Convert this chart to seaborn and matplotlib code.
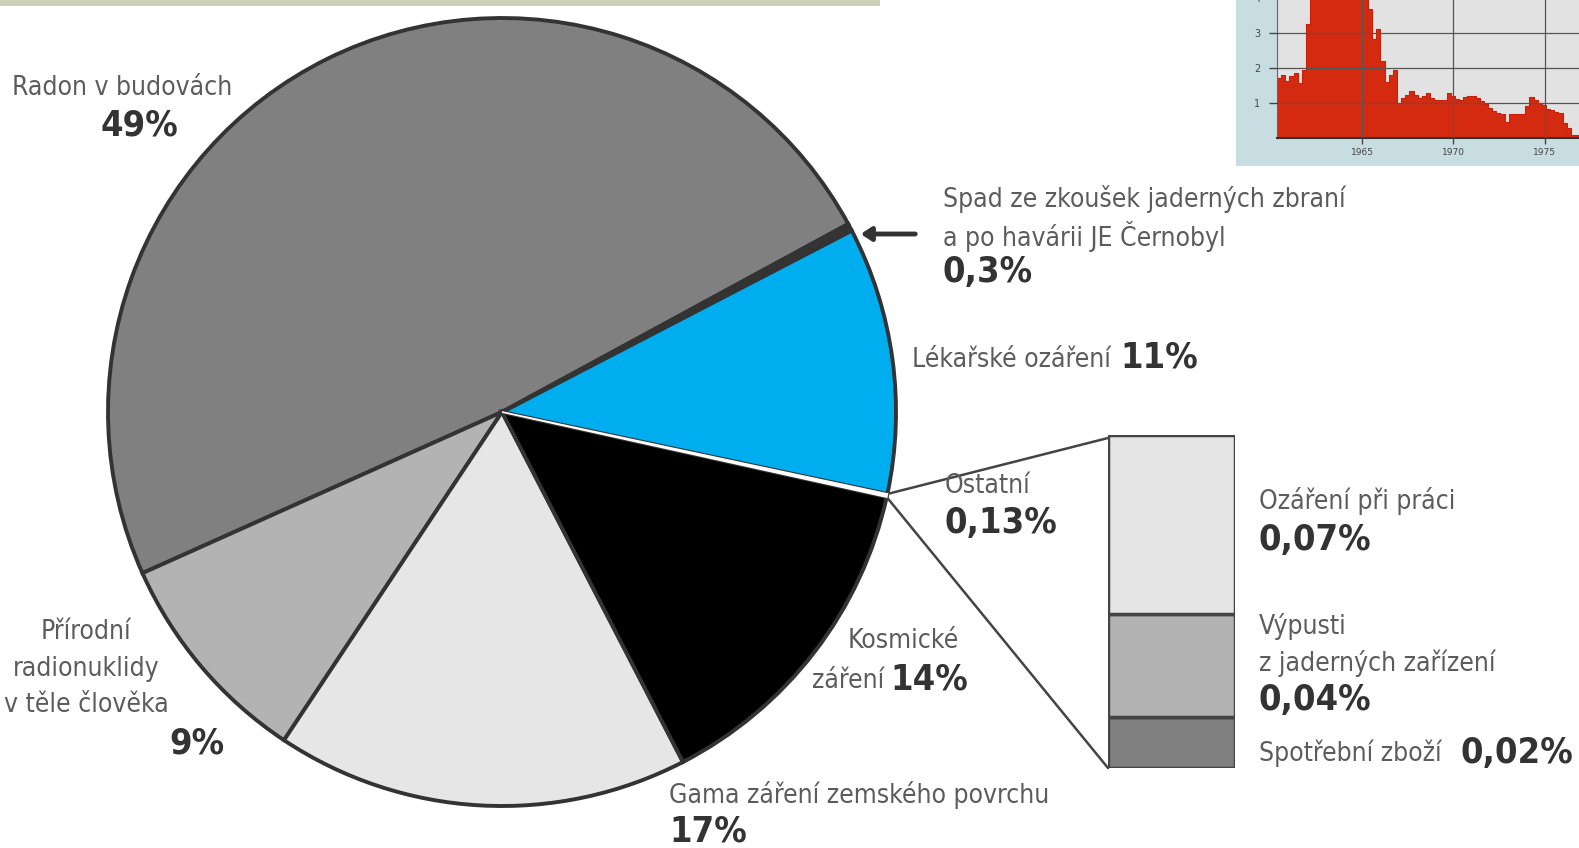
import numpy as np
import matplotlib
matplotlib.use("Agg")
import matplotlib.pyplot as plt
import seaborn as sns
from matplotlib.patches import Rectangle

# ---- data ----
pie_labels = ["Radon v budovách", "Přírodní radionuklidy v těle člověka",
              "Gama záření zemského povrchu", "Kosmické záření", "Ostatní",
              "Lékařské ozáření", "Spad ze zkoušek jaderných zbraní"]
pie_values = [49, 9, 17, 14, 0.13, 11, 0.3]
pie_colors = ["#808080", "#b3b3b3", "#e6e6e6", "#000000", "#ffffff", "#00aeef", "#333333"]

other_labels = ["Spotřební zboží", "Výpusti z jaderných zařízení", "Ozáření při práci"]
other_values = [0.02, 0.04, 0.07]
other_colors = ["#808080", "#b3b3b3", "#e4e4e4"]

# inset (photo fragment): fallout level by quarter
fallout = [1.71, 1.79, 1.64, 1.77, 1.86, 1.57, 1.95, 3.26,
           4.6, 5.2, 5.8, 6.0, 5.7, 5.9, 5.5, 5.8, 5.4, 5.0, 5.2, 4.8, 4.5, 4.2,
           3.70, 2.83, 3.12, 2.21, 1.61, 1.79, 1.93,
           0.99, 1.14, 1.24, 1.35, 1.24, 1.14, 1.19, 1.28, 1.14, 1.09, 1.09, 1.09,
           1.28, 1.21, 1.11, 1.09, 1.16, 1.21, 1.21, 1.13, 1.06, 0.97,
           0.87, 0.77, 0.72, 0.68, 0.46, 0.68, 0.68, 0.68, 0.68,
           0.92, 1.16, 1.09, 0.99, 0.94, 0.84, 0.80, 0.74, 0.71,
           0.42, 0.29, 0.08, 0.08]
fallout_start = 1960.32
fallout_step = 0.227
year_ticks = [1965, 1970, 1975]

sns.set_style("white")
plt.rcParams['font.family'] = ['DejaVu Sans']

W, H = 1579, 848
fig = plt.figure(figsize=(W / 100, H / 100), dpi=100)
ax = fig.add_axes([0, 0, 1, 1])

CX, CY, R = 502, H - 412, 394
wedges, _ = ax.pie(pie_values, colors=pie_colors, startangle=28.5, counterclock=True,
                   radius=R, center=(CX, CY),
                   wedgeprops=dict(edgecolor="#333333", linewidth=2.8))
# thin white "Ostatní" slice stays visible between its neighbours
wedges[4].set_edgecolor("#ffffff")
wedges[4].set_linewidth(1.2)
wedges[4].set_zorder(5)
ax.set_xlim(0, W)
ax.set_ylim(0, H)
ax.set_aspect("auto")
ax.axis("off")

# top strip and photo panel
ax.add_patch(Rectangle((0, H - 6), 880, 6, color="#cdd1b9", lw=0))
ax.add_patch(Rectangle((1236, H - 166), W - 1236, 166, color="#c8dde2", lw=0))

REG = dict(fontsize=19, color="#5c5c5c", fontstretch="condensed")
BLD = dict(fontsize=26, color="#333333", fontweight="bold", fontstretch="condensed")


def T(x, y, s, style, ha="left"):
    ax.text(x, H - y, s, ha=ha, va="center", **style)


T(12, 88, "Radon v budovách", REG)
T(101, 126, "49%", BLD)
T(943, 199, "Spad ze zkoušek jaderných zbraní", REG)
T(943, 236, "a po havárii JE Černobyl", REG)
T(943, 272, "0,3%", BLD)
T(912, 360, "Lékařské ozáření", REG)
T(1120, 358, "11%", BLD)
T(945, 486, "Ostatní", REG)
T(945, 523, "0,13%", BLD)
T(903, 641, "Kosmické", REG, ha="center")
T(812, 681, "záření", REG)
T(890, 679, "14%", BLD)
T(669, 795, "Gama záření zemského povrchu", REG)
T(669, 832, "17%", BLD)
T(86, 632, "Přírodní", REG, ha="center")
T(86, 669, "radionuklidy", REG, ha="center")
T(86, 705, "v těle člověka", REG, ha="center")
T(169, 743, "9%", BLD)
T(1259, 501, "Ozáření při práci", REG)
T(1259, 540, "0,07%", BLD)
T(1259, 627, "Výpusti", REG)
T(1259, 663, "z jaderných zařízení", REG)
T(1259, 700, "0,04%", BLD)
T(1259, 753, "Spotřební zboží", REG)
T(1460, 753, "0,02%", BLD)

# arrow to the fallout slice
ax.annotate("", xy=(858, H - 234), xytext=(918, H - 234),
            arrowprops=dict(arrowstyle="-|>,head_width=0.4,head_length=0.6",
                            color="#333333", lw=3.5))

# connector lines from the "Ostatní" slice to the bar
ost = wedges[4]
for th, ty in [(ost.theta2, 438), (ost.theta1, 768)]:
    px = CX + R * np.cos(np.radians(th))
    py = CY + R * np.sin(np.radians(th))
    ax.plot([px, 1108], [py, H - ty], color="#444444", lw=1.8)

# stacked bar breakdown of "Ostatní"
bx = fig.add_axes([1108 / W, (H - 768) / H, 127 / W, 333 / H])
bottom = 0
for v, c in zip(other_values, other_colors):
    bx.bar(0, v, bottom=bottom, width=1, color=c, edgecolor="#444444", linewidth=2.5)
    bottom += v
bx.set_xlim(-0.5, 0.5)
bx.set_ylim(0, sum(other_values))
bx.axis("off")

# inset photo chart (cropped at figure edge)
ix = fig.add_axes([1277 / W, (H - 138) / H, (W - 1277) / W, 245 / H])
ix.set_facecolor("#e2e2e2")
xs = fallout_start + fallout_step * np.arange(len(fallout) + 1)
ys = fallout + [fallout[-1]]
ix.fill_between(xs, ys, step="post", color="#d42a10", lw=0, zorder=2)
sns.lineplot(x=xs, y=ys, drawstyle="steps-post", color="#c8200a", lw=0.8, ax=ix, zorder=2)
ix.set_xlim(fallout_start, fallout_start + (W - 1277) / 18.23)
ix.set_ylim(0, 7)
ix.set_yticks([1, 2, 3, 4])
ix.set_xticks(year_ticks)
ix.grid(True, color="#555555", lw=0.9, zorder=3)
ix.set_axisbelow(False)
ix.tick_params(axis="y", labelsize=7, colors="#444444", length=6, width=1, left=True, pad=6)
ix.tick_params(axis="x", labelsize=6.5, colors="#444444", length=4, width=1, bottom=True)
for s in ["top", "right"]:
    ix.spines[s].set_visible(False)
ix.spines["left"].set_color("#666666")
ix.spines["bottom"].set_color("#333333")
ix.spines["bottom"].set_linewidth(1.5)

fig.savefig("out.png", dpi=100)
